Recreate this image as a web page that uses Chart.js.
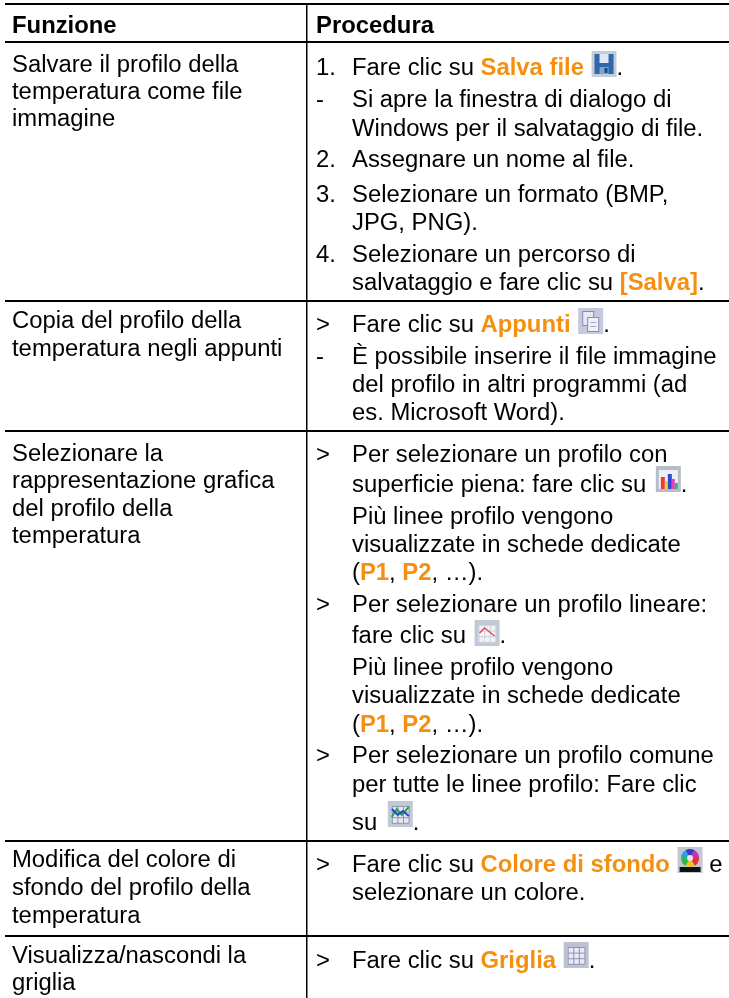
<!DOCTYPE html>
<html>
<head>
<meta charset="utf-8">
<title>Funzione / Procedura</title>
<script src="https://cdn.jsdelivr.net/npm/chart.js@4"></script>
<style>
    html, body { margin: 0; padding: 0; background: #fff; }
    #box { width: 729px; height: 998px; }
    canvas { filter: blur(0.4px); }
</style>
</head>
<body>
<div id="box"><canvas id="tabella"></canvas></div>
<script>
const columnEdges = [307];
const rowEdges = [4, 42, 301, 431, 841, 936];

const headerTexts = ['Funzione', 'Procedura'];
const headerColumns = [12, 316];
const headerBaselines = [33, 33];

const functionTexts = [
    'Salvare il profilo della', 'temperatura come file', 'immagine',
    'Copia del profilo della', 'temperatura negli appunti',
    'Selezionare la', 'rappresentazione grafica', 'del profilo della', 'temperatura',
    'Modifica del colore di', 'sfondo del profilo della', 'temperatura',
    'Visualizza/nascondi la', 'griglia'
];
const functionBaselines = [72, 99, 126, 328, 356, 461, 488, 516, 543, 867, 895, 923, 963, 990];

// *testo* = arancione, {nome} = icona
const procedureTexts = [
    'Fare clic su *Salva file* {save}.',
    'Si apre la finestra di dialogo di',
    'Windows per il salvataggio di file.',
    'Assegnare un nome al file.',
    'Selezionare un formato (BMP,',
    'JPG, PNG).',
    'Selezionare un percorso di',
    'salvataggio e fare clic su *[Salva]*.',
    'Fare clic su *Appunti* {copy}.',
    'È possibile inserire il file immagine',
    'del profilo in altri programmi (ad',
    'es. Microsoft Word).',
    'Per selezionare un profilo con',
    'superficie piena: fare clic su {surface}.',
    'Più linee profilo vengono',
    'visualizzate in schede dedicate',
    '(*P1*, *P2*, …).',
    'Per selezionare un profilo lineare:',
    'fare clic su {line}.',
    'Più linee profilo vengono',
    'visualizzate in schede dedicate',
    '(*P1*, *P2*, …).',
    'Per selezionare un profilo comune',
    'per tutte le linee profilo: Fare clic',
    'su {multi}.',
    'Fare clic su *Colore di sfondo* {color} e',
    'selezionare un colore.',
    'Fare clic su *Griglia* {grid}.'
];
const procedureBaselines = [75, 107, 136, 167, 202, 230, 262, 290, 332, 364, 392, 420, 462, 492, 524, 552, 580, 612, 643, 675, 703, 732, 763, 792, 830, 872, 900, 968];

const markerTexts = ['1.', '-', '2.', '3.', '4.', '>', '-', '>', '>', '>', '>', '>'];
const markerBaselines = [75, 107, 167, 202, 262, 332, 364, 462, 612, 763, 872, 968];

const textColumns = { funzione: 12, marker: 316, procedura: 352 };
const fontSize = 23.85;
const fontName = '"Liberation Sans", Arial, sans-serif';
const orange = '#f5900f';
const iconSize = 25;
const iconShift = { save: 0, copy: 0, surface: -2, line: 1, multi: -5, color: -1, grid: -2 };
const iconGap = { save: 1, copy: 1, surface: 3, line: 2, multi: 4, color: 1, grid: 1 };

function rect(ctx, color, x, y, w, h) {
    ctx.fillStyle = color;
    ctx.fillRect(x, y, w, h);
}

function polyline(ctx, color, width, pts) {
    ctx.strokeStyle = color;
    ctx.lineWidth = width;
    ctx.beginPath();
    pts.forEach((p, i) => i ? ctx.lineTo(p[0], p[1]) : ctx.moveTo(p[0], p[1]));
    ctx.stroke();
}

function cells(ctx, fill, line) {
    rect(ctx, fill, 4, 5, 17, 17);
    for (let i = 0; i < 4; i++) {
        rect(ctx, line, 4 + i * 5.6, 5, 1, 17);
        rect(ctx, line, 4, 5 + i * 5.6, 17, 1);
    }
}

// le icone sono disegnate in un riquadro 25x26
const icons = {
    save(ctx) {
        rect(ctx, '#c3cbd8', 0, 0, 25, 26);
        rect(ctx, '#2f67ad', 3, 3, 19, 20);
        rect(ctx, '#dfe8f2', 8, 3, 9, 9);
        rect(ctx, '#7fa3cf', 8, 16, 9, 7);
        rect(ctx, '#1d4a86', 13, 17, 3, 5);
    },
    copy(ctx) {
        rect(ctx, '#c6c8dc', 0, 0, 25, 26);
        rect(ctx, '#8d86b8', 4, 3, 12, 15);
        rect(ctx, '#e8e8f4', 5, 4, 10, 13);
        rect(ctx, '#8d86b8', 9, 9, 12, 15);
        rect(ctx, '#f1f1f8', 10, 10, 10, 13);
        rect(ctx, '#a9a4cc', 12, 14, 6, 1);
        rect(ctx, '#a9a4cc', 12, 18, 6, 1);
    },
    surface(ctx) {
        rect(ctx, '#b7bcc9', 0, 0, 25, 26);
        rect(ctx, '#eef0f5', 3, 4, 19, 19);
        rect(ctx, '#f03a3a', 5, 11, 4, 12);
        rect(ctx, '#f6d233', 9, 15, 3, 8);
        rect(ctx, '#2c49d8', 12, 8, 4, 15);
        rect(ctx, '#e23fc0', 16, 13, 3, 10);
        rect(ctx, '#31b85a', 19, 17, 3, 6);
    },
    line(ctx) {
        rect(ctx, '#c2c9d6', 0, 0, 25, 26);
        cells(ctx, '#f4f2f6', '#cfd2e4');
        polyline(ctx, '#d9534f', 1.5, [[5, 13], [10, 8], [15, 12], [20, 16]]);
    },
    multi(ctx) {
        rect(ctx, '#c2c9d6', 0, 0, 25, 26);
        cells(ctx, '#e6e8f2', '#8f97ad');
        polyline(ctx, '#23a94d', 2, [[4, 16], [9, 8], [14, 14], [21, 6]]);
        polyline(ctx, '#2b45c9', 2, [[4, 8], [10, 14], [15, 10], [21, 15]]);
    },
    color(ctx) {
        rect(ctx, '#c3c7d0', 0, 0, 25, 26);
        rect(ctx, '#111', 2, 20, 21, 5);
        const hues = ['#e8322f', '#f0c522', '#36b54a', '#22a7d8', '#3a3ac8', '#c732b5'];
        hues.forEach((c, i) => {
            ctx.fillStyle = c;
            ctx.beginPath();
            ctx.moveTo(12.5, 11);
            ctx.arc(12.5, 11, 9, i * Math.PI / 3, (i + 1) * Math.PI / 3);
            ctx.fill();
        });
        ctx.fillStyle = '#e8e8ee';
        ctx.beginPath();
        ctx.arc(12.5, 11, 3, 0, Math.PI * 2);
        ctx.fill();
    },
    grid(ctx) {
        rect(ctx, '#bcc2cf', 0, 0, 25, 26);
        cells(ctx, '#eae8fa', '#8f96aa');
    }
};

// scrive una riga con parti arancioni e icone, partendo dal punto del dataset
function drawLine(ctx, text, x, y, bold) {
    let cursor = x;
    text.split(/(\*[^*]+\*|\{\w+\})/).filter(Boolean).forEach(part => {
        if (part[0] === '{') {
            const name = part.slice(1, -1);
            cursor += iconGap[name];
            ctx.save();
            ctx.translate(cursor, y - iconSize + 1 + iconShift[name]);
            icons[name](ctx);
            ctx.restore();
            cursor += iconSize;
            return;
        }
        const accent = part[0] === '*';
        const str = accent ? part.slice(1, -1) : part;
        ctx.font = (bold || accent ? 'bold ' : '') + fontSize + 'px ' + fontName;
        ctx.fillStyle = accent ? orange : '#000';
        ctx.fillText(str, cursor, y);
        cursor += ctx.measureText(str).width;
    });
}

const cellText = {
    id: 'cellText',
    afterDatasetsDraw(chart) {
        const ctx = chart.ctx;
        ctx.save();
        ctx.textBaseline = 'alphabetic';
        ctx.textAlign = 'left';
        chart.data.datasets.forEach((ds, i) => {
            chart.getDatasetMeta(i).data.forEach((pt, j) => {
                drawLine(ctx, ds.texts[j], pt.x, pt.y, ds.bold);
            });
        });
        ctx.restore();
    }
};

function textSet(texts, baselines, column, bold) {
    return {
        label: texts[0],
        texts: texts,
        bold: bold,
        data: baselines.map((y, i) => ({ x: Array.isArray(column) ? column[i] : column, y: y })),
        pointRadius: 0,
        showLine: false
    };
}

new Chart(document.getElementById('tabella'), {
    type: 'scatter',
    data: {
        datasets: [
            textSet(headerTexts, headerBaselines, headerColumns, true),
            textSet(functionTexts, functionBaselines, textColumns.funzione, false),
            textSet(markerTexts, markerBaselines, textColumns.marker, false),
            textSet(procedureTexts, procedureBaselines, textColumns.procedura, false)
        ]
    },
    options: {
        responsive: true,
        maintainAspectRatio: false,
        animation: false,
        layout: { padding: { left: 5, top: 3, right: 0, bottom: 0 } },
        plugins: { legend: { display: false }, tooltip: { enabled: false } },
        scales: {
            x: {
                type: 'linear',
                min: 5,
                max: 729,
                afterBuildTicks: axis => { axis.ticks = columnEdges.map(v => ({ value: v })); },
                ticks: { display: false },
                border: { display: false },
                grid: { color: '#000', lineWidth: 1.5, drawTicks: false }
            },
            y: {
                type: 'linear',
                reverse: true,
                min: 3,
                max: 998,
                afterBuildTicks: axis => { axis.ticks = rowEdges.map(v => ({ value: v })); },
                ticks: { display: false },
                border: { display: false },
                grid: { color: '#000', lineWidth: 2, drawTicks: false }
            }
        }
    },
    plugins: [cellText]
});
</script>
</body>
</html>
